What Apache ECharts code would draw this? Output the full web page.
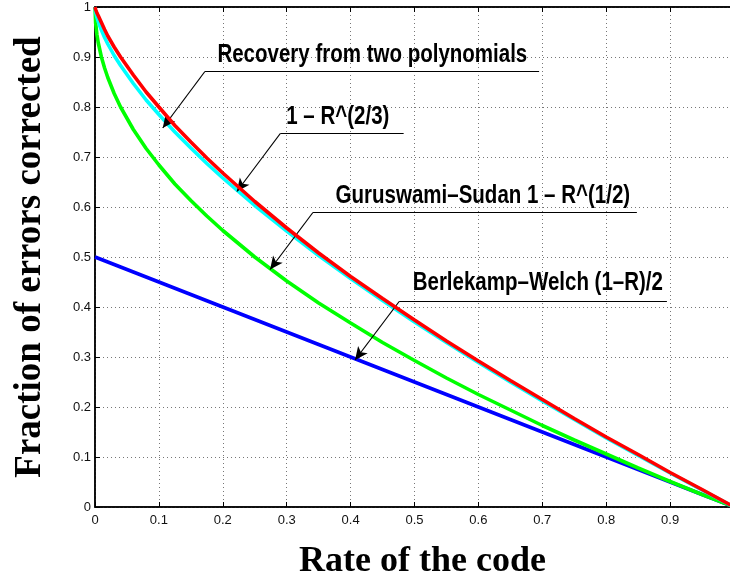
<!DOCTYPE html>
<html>
<head>
<meta charset="utf-8">
<script src="https://cdn.jsdelivr.net/npm/echarts@6/dist/echarts.min.js"></script>
<style>
  html, body { margin: 0; padding: 0; background: #fff; }
  #chart { width: 730px; height: 579px; }
</style>
</head>
<body>
<div id="chart"></div>
<script>
// rate of the code (x) and the four curves
const rate = [0, 0.001, 0.003, 0.005, 0.01, 0.015, 0.02, 0.03, 0.04, 0.06, 0.08, 0.1,
  0.125, 0.15, 0.175, 0.2, 0.25, 0.3, 0.35, 0.4, 0.45, 0.5, 0.55, 0.6,
  0.65, 0.7, 0.75, 0.8, 0.85, 0.9, 0.95, 1.0];
const berlekampWelch = [0.5, 0.4995, 0.4985, 0.4975, 0.495, 0.4925, 0.49, 0.485, 0.48, 0.47, 0.46, 0.45,
  0.4375, 0.425, 0.4125, 0.4, 0.375, 0.35, 0.325, 0.3, 0.275, 0.25, 0.225, 0.2,
  0.175, 0.15, 0.125, 0.1, 0.075, 0.05, 0.025, 0];
const guruswamiSudan = [1, 0.968, 0.945, 0.929, 0.9, 0.878, 0.859, 0.827, 0.8, 0.755, 0.717, 0.684,
  0.646, 0.613, 0.582, 0.553, 0.5, 0.452, 0.408, 0.368, 0.329, 0.293, 0.258, 0.225,
  0.194, 0.163, 0.134, 0.106, 0.078, 0.051, 0.025, 0];
const twoThirds = [1, 0.99, 0.979, 0.971, 0.954, 0.939, 0.926, 0.903, 0.883, 0.847, 0.814, 0.785,
  0.75, 0.718, 0.687, 0.658, 0.603, 0.552, 0.503, 0.457, 0.413, 0.37, 0.329, 0.289,
  0.25, 0.212, 0.175, 0.138, 0.103, 0.068, 0.034, 0];
const twoPolys = [1, 0.995, 0.988, 0.983, 0.969, 0.955, 0.942, 0.92, 0.9, 0.864, 0.83, 0.8,
  0.763, 0.73, 0.698, 0.668, 0.611, 0.558, 0.508, 0.461, 0.417, 0.374, 0.332, 0.292,
  0.253, 0.215, 0.177, 0.14, 0.105, 0.069, 0.035, 0];

// callouts, in data units: text, text centre, elbow, underline end, arrow tip
const notes = [
  { text: 'Recovery from two polynomials', at: [0.434, 0.904], elbow: [0.172, 0.871], end: [0.695, 0.871], tip: [0.106, 0.758] },
  { text: '1 – R^(2/3)', at: [0.38, 0.78], elbow: [0.29, 0.747], end: [0.483, 0.747], tip: [0.222, 0.631] },
  { text: 'Guruswami–Sudan 1 – R^(1/2)', at: [0.607, 0.621], elbow: [0.341, 0.589], end: [0.848, 0.589], tip: [0.274, 0.475] },
  { text: 'Berlekamp–Welch (1–R)/2', at: [0.693, 0.448], elbow: [0.476, 0.411], end: [0.895, 0.411], tip: [0.407, 0.294] }
];

const pairs = (ys) => rate.map((r, i) => [r, ys[i]]);

const chart = echarts.init(document.getElementById('chart'));

const curve = (name, ys, color, z) => ({
  name: name,
  type: 'line',
  data: pairs(ys),
  showSymbol: false,
  z: z,
  lineStyle: { color: color, width: 3.6 },
  itemStyle: { color: color }
});

const tickLabel = { fontFamily: 'Liberation Sans, Arial, sans-serif', fontSize: 13, color: '#111' };
const grid = { type: [1, 3], color: '#777', width: 1 };
const titleFont = { fontFamily: 'Liberation Serif, Times New Roman, serif', fontWeight: 'bold', color: '#000' };
const frame = { color: '#000', width: 1.5 };

chart.setOption({
  animation: false,
  grid: {
    left: 95, top: 7, width: 639, height: 500,
    outerBoundsMode: 'none', containLabel: false,
    show: true, borderColor: '#000', borderWidth: 1.5
  },
  xAxis: [{
    type: 'value', min: 0, max: 1, interval: 0.1,
    name: 'Rate of the code', nameLocation: 'middle', nameGap: 37,
    nameTextStyle: Object.assign({ fontSize: 36, padding: [0, 0, 0, 16] }, titleFont),
    axisLine: { lineStyle: frame },
    axisTick: { inside: true, length: 5, lineStyle: { color: '#000' } },
    axisLabel: Object.assign({ margin: 7, showMaxLabel: false }, tickLabel),
    splitLine: { show: true, lineStyle: grid }
  }, {
    type: 'value', min: 0, max: 1, interval: 0.1, position: 'top',
    axisLine: { show: true, lineStyle: frame },
    axisTick: { inside: true, length: 5, lineStyle: { color: '#000' } },
    axisLabel: { show: false },
    splitLine: { show: false }
  }],
  yAxis: {
    type: 'value', min: 0, max: 1, interval: 0.1,
    name: 'Fraction of errors corrected', nameLocation: 'middle', nameGap: 46, nameRotate: 90,
    nameTextStyle: Object.assign({ fontSize: 37 }, titleFont),
    axisLine: { show: true, lineStyle: frame },
    axisTick: { show: true, inside: true, length: 5, lineStyle: { color: '#000' } },
    axisLabel: Object.assign({ margin: 4 }, tickLabel),
    splitLine: { show: true, lineStyle: grid }
  },
  series: [
    curve('Berlekamp-Welch', berlekampWelch, '#0000ff', 2),
    curve('Guruswami-Sudan', guruswamiSudan, '#00ff00', 3),
    curve('1 - R^(2/3)', twoThirds, '#00ffff', 4),
    curve('Recovery from two polynomials', twoPolys, '#ff0000', 5),
    {
      name: 'notes',
      type: 'line',
      data: [],
      z: 10,
      markLine: {
        silent: true,
        animation: false,
        label: { show: false },
        lineStyle: { color: '#000', width: 1.2, type: 'solid' },
        symbolSize: [9, 13],
        data: notes.flatMap(n => [
          [{ coord: n.elbow, symbol: 'none' }, { coord: n.tip, symbol: 'arrow' }],
          [{ coord: n.elbow, symbol: 'none' }, { coord: n.end, symbol: 'none' }]
        ])
      }
    }
  ]
});

// callout texts: bold narrow sans, placed through the grid's own scales
chart.setOption({
  graphic: notes.map(n => {
    const p = chart.convertToPixel({ gridIndex: 0 }, n.at);
    return {
      type: 'text',
      x: p[0], y: p[1],
      scaleX: 0.82,
      z: 20,
      style: {
        text: n.text,
        fill: '#000',
        font: 'bold 25px "Liberation Sans", Arial, sans-serif',
        align: 'center',
        verticalAlign: 'middle'
      }
    };
  })
});

window.addEventListener('resize', () => chart.resize());
</script>
</body>
</html>
